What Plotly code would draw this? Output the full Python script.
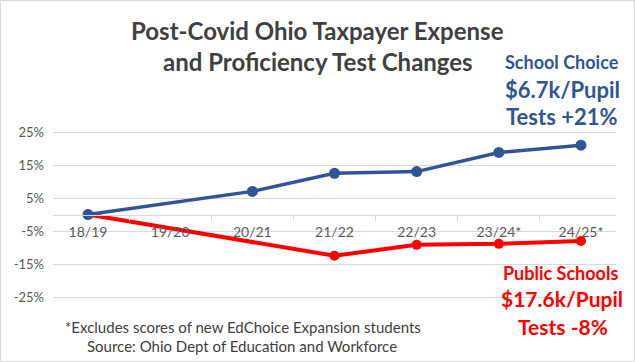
import plotly.graph_objects as go

categories = ['18/19', '19/20', '20/21', '21/22', '22/23', '23/24*', '24/25*']
school_choice = [0, None, 7.0, 12.5, 13.0, 18.8, 21.0]
public_schools = [0, None, None, -12.5, -9.2, -8.9, -8.0]
y_tick_vals = [-25, -15, -5, 5, 15, 25]
y_tick_text = ['-25%', '-15%', '-5%', '5%', '15%', '25%']

W, H = 635, 362
L, R, T, B = 53, 19, 115, 48
PW, PH = W - L - R, H - T - B

def xp(px):
    return (px - L) / PW

def yp(py):
    return (H - B - py) / PH

BLUE = '#2F5597'
RED = '#FF0000'
FONT = 'Lato'

fig = go.Figure()
fig.add_trace(go.Scatter(x=categories, y=public_schools, mode='lines+markers',
                         connectgaps=True, line=dict(color=RED, width=4),
                         marker=dict(size=10, color=RED), hoverinfo='skip'))
fig.add_trace(go.Scatter(x=categories, y=school_choice, mode='lines+markers',
                         connectgaps=True, line=dict(color=BLUE, width=3.5),
                         marker=dict(size=11, color=BLUE), hoverinfo='skip'))

annots = []
def txt(s, cx, cy, size, color, bold=False):
    annots.append(dict(text=(f'<b>{s}</b>' if bold else s), x=xp(cx), y=yp(cy),
                       xref='paper', yref='paper', xanchor='center', yanchor='middle',
                       showarrow=False, font=dict(family=FONT, size=size, color=color)))

txt('Post-Covid Ohio Taxpayer Expense', 317.5, 30, 24, '#404040', True)
txt('and Proficiency Test Changes', 317.5, 61.5, 24, '#404040', True)
txt('School Choice', 562, 62, 18, BLUE, True)
txt('$6.7k/Pupil', 562, 89, 22, BLUE, True)
txt('Tests +21%', 561, 116, 22, BLUE, True)
txt('Public Schools', 560, 273, 18, RED, True)
txt('$17.6k/Pupil', 562, 298.5, 21, RED, True)
txt('Tests -8%', 563, 326.5, 21, RED, True)
txt('*Excludes scores of new EdChoice Expansion students', 243, 327, 15, '#404040')
txt('Source: Ohio Dept of Education and Workforce', 242, 346, 15, '#404040')

fig.update_layout(
    width=W, height=H, margin=dict(l=L, r=R, t=T, b=B),
    paper_bgcolor='white', plot_bgcolor='white', showlegend=False,
    font=dict(family=FONT, color='#595959'),
    annotations=annots,
    shapes=[dict(type='rect', xref='paper', yref='paper',
                 x0=xp(0.5), x1=xp(W - 0.5), y0=yp(H - 0.5), y1=yp(0.5),
                 line=dict(color='#D9D9D9', width=1), layer='below')],
    xaxis=dict(type='category', categoryorder='array', categoryarray=categories,
               anchor='free', position=0.5, showline=True, linecolor='#D9D9D9',
               linewidth=1, ticks='outside', tickson='boundaries', ticklen=5,
               tickcolor='#D9D9D9', showgrid=False, zeroline=False,
               ticklabelstandoff=5,
               tickfont=dict(size=14, color='#595959'), fixedrange=True),
    yaxis=dict(range=[-30.15, 30.15], tickvals=y_tick_vals, ticktext=y_tick_text,
               showgrid=True, gridcolor='#D9D9D9', zeroline=False, showline=False,
               ticklabelstandoff=8,
               tickfont=dict(size=13, color='#595959'), fixedrange=True),
)

fig.write_html('out.html')
